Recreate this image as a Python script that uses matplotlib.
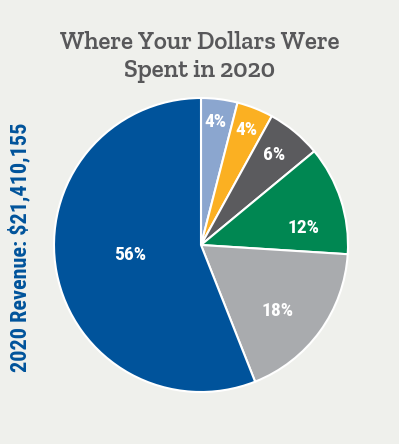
import numpy as np
import matplotlib
matplotlib.use("Agg")
import matplotlib.pyplot as plt

categories = ["A", "B", "C", "D", "E", "F"]
values = [4, 4, 6, 12, 18, 56]
labels = ["4%", "4%", "6%", "12%", "18%", "56%"]
colors = ["#8ba6cf", "#fbb022", "#5b5b5e", "#008752", "#a9abae", "#00539b"]
title = "Where Your Dollars Were\nSpent in 2020"
side_label = "2020 Revenue: $21,410,155"

# per-label radial fraction and angular offset (deg) for placement
label_r = [0.84, 0.84, 0.79, 0.71, 0.69, 0.49]
label_off = [-0.7, 0.1, -0.7, 8.6, 4.6, 2.8]

bg = "#eff0ec"
fig = plt.figure(figsize=(3.99, 4.44), dpi=100, facecolor=bg)
ax = fig.add_axes([54/399, 1-392/444, 294/399, 294/444])
ax.set_facecolor(bg)
wedges, _ = ax.pie(values, colors=colors, startangle=90, counterclock=False,
                   wedgeprops=dict(edgecolor="white", linewidth=1.5))
ax.set_aspect("equal")
ax.set_xlim(-1.0, 1.0)
ax.set_ylim(-1.0, 1.0)

label_font = ["Roboto Condensed", "DejaVu Sans"]
total = sum(values)
cum = 0
for v, lab, r, off in zip(values, labels, label_r, label_off):
    mid = (cum + v / 2) / total * 360 + off
    cum += v
    th = np.deg2rad(90 - mid)
    ax.text(r * np.cos(th), r * np.sin(th), lab, ha="center", va="center",
            color="white", fontsize=14, fontweight="bold", family=label_font)

fig.text(0.5, 1 - 57/444, title, ha="center", va="center", fontsize=18,
         color="#58585a", family=["Zilla Slab", "DejaVu Serif"], fontweight="semibold",
         linespacing=1.25)
fig.text(20/399, 1 - 247/444, side_label, rotation=90, ha="center", va="center",
         fontsize=16, fontweight="bold", color="#00539b", family=label_font)

fig.savefig("out.png", dpi=100, facecolor=bg)
